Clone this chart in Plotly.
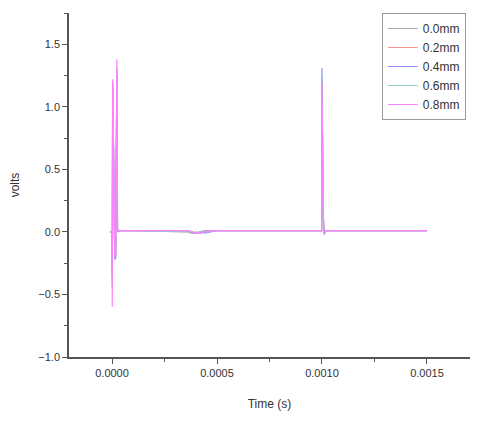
import plotly.graph_objects as go

# time samples (s)
time_s = [-0.00001, 0.0, 0.000001, 0.000003, 0.000008, 0.000013, 0.000017, 0.000023, 0.000026,
          0.00003, 0.000035, 0.0001, 0.00036, 0.00038, 0.0004, 0.00042, 0.00044, 0.0005,
          0.0009, 0.000998, 0.001, 0.001002, 0.001005, 0.001008, 0.001011, 0.001015,
          0.00102, 0.0015]

labels = ["0.0mm", "0.2mm", "0.4mm", "0.6mm", "0.8mm"]

v_00 = [0.0, 0.0, -0.3, 1.15, 0.6, -0.21, -0.2, 1.25, 0.03, 0.0, 0.01, 0.01, 0.01, 0.0,
        -0.01, 0.0, 0.01, 0.01, 0.01, 0.01, 1.22, 0.4, 0.22, 0.05, -0.02, 0.0, 0.01, 0.01]
v_02 = [0.0, 0.0, -0.4, 1.2, 0.5, -0.2, -0.2, 1.28, 0.02, 0.0, 0.01, 0.01, 0.0, -0.01,
        0.0, -0.01, 0.0, 0.01, 0.01, 0.01, 1.19, 0.45, 0.23, 0.04, -0.01, 0.0, 0.01, 0.01]
v_04 = [0.0, 0.0, -0.35, 1.18, 0.55, -0.22, -0.21, 1.3, 0.02, 0.0, 0.01, 0.01, 0.01, -0.01,
        -0.01, 0.0, -0.01, 0.01, 0.01, 0.01, 1.31, 0.5, 0.24, 0.05, -0.02, 0.0, 0.01, 0.01]
v_06 = [0.0, 0.0, -0.45, 1.2, 0.5, -0.2, -0.2, 1.32, 0.02, 0.0, 0.01, 0.01, 0.0, 0.0,
        -0.01, 0.0, 0.0, 0.01, 0.01, 0.01, 1.25, 0.42, 0.22, 0.04, -0.01, 0.0, 0.01, 0.01]
v_08 = [0.0, 0.0, -0.6, 1.22, 0.5, -0.2, -0.19, 1.38, 0.03, 0.0, 0.01, 0.01, 0.01, 0.0,
        -0.01, -0.01, 0.0, 0.01, 0.01, 0.01, 1.2, 0.4, 0.23, 0.04, -0.01, 0.0, 0.01, 0.01]

series = [v_00, v_02, v_04, v_06, v_08]
colors = ["#a8a8a8", "#ff9090", "#9090ff", "#90cccc", "#ff80ff"]

fig = go.Figure()
for name, vals, col in zip(labels, series, colors):
    fig.add_trace(go.Scatter(x=time_s, y=vals, mode="lines", name=name,
                             line=dict(color=col, width=1.2)))

axis_font = dict(family="Liberation Sans, Arial", size=11, color="#333")

# page body has an 8px margin, so the figure is 8px smaller than the window
fig.update_layout(
    width=472, height=415,
    margin=dict(l=61, r=10, t=5, b=66),
    paper_bgcolor="white", plot_bgcolor="white",
    font=axis_font,
    legend=dict(x=0.78, y=1.0, xanchor="left", yanchor="top",
                bordercolor="#999", borderwidth=1, bgcolor="white",
                font=dict(family="Liberation Sans, Arial", size=12, color="#333"),
                tracegroupgap=0, itemwidth=30),
    xaxis=dict(range=[-0.000205, 0.001705], tickvals=[0, 0.0005, 0.001, 0.0015],
               tickformat=".4f", showgrid=False, zeroline=False,
               showline=True, linecolor="#555", linewidth=1.5,
               ticks="outside", ticklen=5, tickcolor="#555",
               minor=dict(ticks="outside", ticklen=3, dtick=0.00025, tick0=0, tickcolor="#555"),
               title=dict(text="Time (s)", font=dict(size=12, color="#333"), standoff=22)),
    yaxis=dict(range=[-1.0, 1.75], tickvals=[-1.0, -0.5, 0.0, 0.5, 1.0, 1.5],
               tickformat=".1f", showgrid=False, zeroline=False,
               showline=True, linecolor="#555", linewidth=1.5,
               ticks="outside", ticklen=5, tickcolor="#555",
               minor=dict(ticks="outside", ticklen=3, dtick=0.25, tick0=0, tickcolor="#555"),
               title=dict(text="volts", font=dict(size=12, color="#333"), standoff=16)),
)

fig.write_html("out.html")
